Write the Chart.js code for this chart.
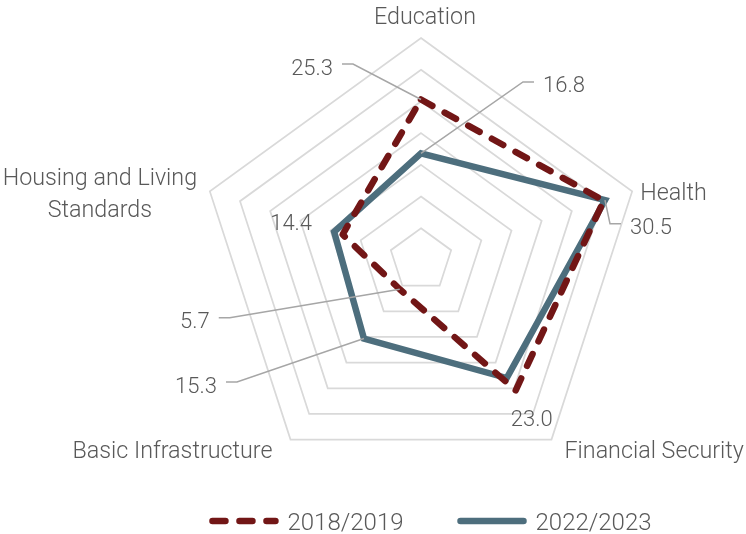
<!DOCTYPE html>
<html>
<head>
<meta charset="utf-8">
<script src="https://cdn.jsdelivr.net/npm/chart.js@4.4.1/dist/chart.umd.min.js"></script>
<style>
  html, body { margin: 0; padding: 0; background: #fff; }
</style>
</head>
<body>
<canvas id="radar-chart" width="746" height="534"></canvas>
<script>
const categories = ['Education', 'Health', 'Financial Security', 'Basic Infrastructure', ['Housing and Living', 'Standards']];
const seriesNames = ['2018/2019', '2022/2023'];
const values2018 = [25.3, 30.3, 25.4, 5.7, 13.0];
const values2022 = [16.8, 30.5, 23.0, 15.3, 14.4];
const scaleMax = 35;
const scaleStep = 5;

const textGrey = '#595959';
const fontFamily = 'Roboto, "Liberation Sans", Arial, sans-serif';
// 'middle' baseline sits a little high for this font
const textNudge = 2.5;

// value labels: offset of the text from its point, optional leader line
const valueLabelSpots = {
  '0-0': { dx: -88, dy: -33, align: 'right', lead: true },
  '1-0': { dx: 122, dy: -69, align: 'left', lead: true },
  '1-1': { dx: 25, dy: 26, align: 'left', lead: true },
  '1-2': { dx: 25, dy: 40, align: 'center', lead: false },
  '1-4': { dx: -43, dy: -10, align: 'center', lead: false },
  '0-3': { dx: -190, dy: 31, align: 'right', lead: true },
  '1-3': { dx: -147, dy: 46, align: 'right', lead: true }
};

// category names, placed from the outer ring vertices
const categorySpots = [
  { dx: 4, dy: -22, align: 'center' },
  { dx: 8, dy: 0, align: 'left' },
  { dx: 13, dy: 10, align: 'left' },
  { dx: -18, dy: 10, align: 'right' },
  { dx: -110, dy: -15, align: 'center' }
];

const radarLabels = {
  id: 'radarLabels',
  afterDatasetsDraw(chart) {
    const ctx = chart.ctx;
    const scale = chart.scales.r;
    ctx.save();
    ctx.textBaseline = 'middle';
    ctx.fillStyle = textGrey;

    // category names
    ctx.font = '300 23.3px ' + fontFamily;
    chart.data.labels.forEach(function (label, i) {
      const pos = scale.getPointPosition(i, scale.drawingArea);
      const spot = categorySpots[i];
      const lines = Array.isArray(label) ? label : [label];
      ctx.textAlign = spot.align;
      lines.forEach(function (line, j) {
        ctx.fillText(line, pos.x + spot.dx, pos.y + spot.dy + j * 32 + textNudge);
      });
    });

    // value labels with leader lines
    ctx.font = '300 22px ' + fontFamily;
    chart.data.datasets.forEach(function (ds, d) {
      const meta = chart.getDatasetMeta(d);
      meta.data.forEach(function (pt, i) {
        const spot = valueLabelSpots[d + '-' + i];
        if (!spot) return;
        const tx = pt.x + spot.dx;
        const ty = pt.y + spot.dy;
        ctx.textAlign = spot.align;
        ctx.fillText(ds.data[i].toFixed(1), tx, ty + textNudge);
        if (spot.lead) {
          const dir = spot.align === 'right' ? 1 : -1;
          const ly = ty - 2.5;
          ctx.beginPath();
          ctx.moveTo(tx + dir * 9, ly);
          ctx.lineTo(tx + dir * 20, ly);
          ctx.lineTo(pt.x, pt.y);
          ctx.strokeStyle = '#a6a6a6';
          ctx.lineWidth = 1.5;
          ctx.stroke();
        }
      });
    });
    ctx.restore();
  },
  afterDraw(chart) {
    // legend row under the chart
    const ctx = chart.ctx;
    const lineLen = 63, textGap = 12, itemGap = 57;
    const y = 521;
    ctx.save();
    ctx.font = '300 24px ' + fontFamily;
    ctx.textBaseline = 'middle';
    ctx.textAlign = 'left';
    const widths = chart.data.datasets.map(ds => ctx.measureText(ds.label).width);
    const total = widths.reduce((a, w) => a + lineLen + textGap + w, 0) + itemGap * (widths.length - 1);
    let x = 432 - total / 2;
    chart.data.datasets.forEach(function (ds, d) {
      ctx.beginPath();
      ctx.setLineDash(ds.borderDash || []);
      ctx.lineCap = 'round';
      ctx.lineWidth = ds.borderWidth;
      ctx.strokeStyle = ds.borderColor;
      ctx.moveTo(x, y);
      ctx.lineTo(x + lineLen, y);
      ctx.stroke();
      ctx.setLineDash([]);
      ctx.fillStyle = textGrey;
      ctx.fillText(ds.label, x + lineLen + textGap, y + textNudge);
      x += lineLen + textGap + widths[d] + itemGap;
    });
    ctx.restore();
  }
};

new Chart(document.getElementById('radar-chart'), {
  type: 'radar',
  data: {
    labels: categories,
    datasets: [{
      label: seriesNames[0],
      data: values2018,
      borderColor: '#721616',
      backgroundColor: 'transparent',
      borderWidth: 6.5,
      borderDash: [13, 14],
      borderCapStyle: 'round',
      borderJoinStyle: 'round',
      fill: false,
      pointRadius: 0
    },
    {
      label: seriesNames[1],
      data: values2022,
      borderColor: '#4d6e7d',
      backgroundColor: 'transparent',
      borderWidth: 6.5,
      fill: false,
      pointRadius: 0
    }]
  },
  options: {
    responsive: false,
    animation: false,
    layout: {
      padding: { top: 38, bottom: 52, left: 96, right: 0 }
    },
    scales: {
      r: {
        min: 0,
        max: scaleMax,
        ticks: { stepSize: scaleStep, display: false },
        grid: { color: '#d9d9d9', lineWidth: 1.75 },
        angleLines: { display: false },
        pointLabels: { display: false }
      }
    },
    plugins: {
      legend: { display: false },
      tooltip: { enabled: false }
    }
  },
  plugins: [radarLabels]
});
</script>
</body>
</html>
